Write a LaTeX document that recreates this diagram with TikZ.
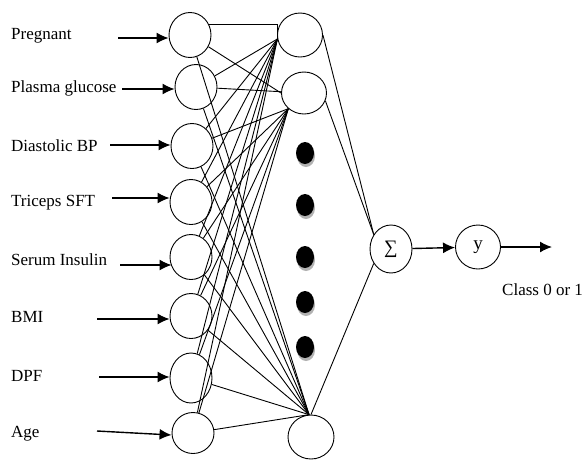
\documentclass[tikz,border=0pt]{standalone}
\usepackage{fontspec}
\setmainfont{Liberation Serif}
\usetikzlibrary{arrows.meta,shapes.geometric}
\begin{document}
\begin{tikzpicture}[x=1pt,y=-1pt,
  >={Latex[length=12pt,width=11pt]},
  neuron/.style={draw, ellipse, line width=0.9pt, minimum width=42pt, minimum height=45pt, inner sep=0pt},
  blob/.style={fill=black, ellipse, minimum width=18pt, minimum height=22pt, inner sep=0pt},
  shade/.style={fill=black!30, ellipse, minimum width=18pt, minimum height=22pt, inner sep=0pt},
  lab/.style={anchor=base west, font=\fontsize{17}{20}\selectfont, inner sep=0pt},
  wire/.style={line width=0.9pt},
  arr/.style={line width=1.4pt, ->}]
\useasboundingbox (0,0) rectangle (586,459);
\fill[white] (0,0) rectangle (586,459);
% input neurons
\node[neuron] (i1) at (190,35) {};
\node[neuron] (i2) at (196,87) {};
\node[neuron] (i3) at (192,146) {};
\node[neuron] (i4) at (191,202) {};
\node[neuron] (i5) at (191,257) {};
\node[neuron] (i6) at (191,316) {};
\node[neuron, minimum height=50pt] (i7) at (191,378) {};
\node[neuron, minimum height=41pt] (i8) at (193,433) {};
% hidden neurons
\node[neuron, minimum width=45pt, minimum height=44pt] (h1) at (300,35) {};
\node[neuron, minimum width=45pt, minimum height=42pt] (h2) at (304,93) {};
\node[neuron, minimum width=46pt, minimum height=44pt] (h3) at (311,437) {};
% dots (with soft shadow)
\foreach \yy [count=\n] in {153,205,257,302,347}{
  \node[shade] (s\n) at (306,\yy+3) {};
  \node[blob] (d\n) at (305,\yy) {};
}
% output
\node[neuron, minimum width=42pt, minimum height=48pt, font=\fontsize{19}{22}\selectfont] (sig) at (391,249) {∑};
\node[neuron, minimum width=45pt, minimum height=44pt, font=\fontsize{19}{22}\selectfont] (yy) at (478,247) {y};
% labels
\node[lab] (l1) at (11,39) {Pregnant};
\node[lab] (l2) at (11,92) {Plasma glucose};
\node[lab] (l3) at (11,151) {Diastolic BP};
\node[lab] (l4) at (11,206) {Triceps SFT};
\node[lab] (l5) at (11,265) {Serum Insulin};
\node[lab] (l6) at (11,322) {BMI};
\node[lab] (l7) at (11,381) {DPF};
\node[lab] (l8) at (11,437) {Age};
\node[lab] (lc) at (502,295) {Class 0 or 1};
% input arrows
\coordinate (a1) at (118,38);
\coordinate (a2) at (122,89);
\coordinate (a3) at (110,145);
\coordinate (a4) at (112,198);
\coordinate (a5) at (120,265);
\coordinate (a6) at (97,319);
\coordinate (a7) at (99,377);
\coordinate (a8) at (97,431);
\draw[arr] (a1) -- (a1 -| i1.west);
\draw[arr] (a2) -- (a2 -| i2.west);
\draw[arr] (a3) -- (a3 -| i3.west);
\draw[arr] (a4) -- (a4 -| i4.west);
\draw[arr] (a5) -- ([xshift=2pt]a5 -| i5.west);
\draw[arr] (a6) -- (a6 -| i6.west);
\draw[arr] (a7) -- (a7 -| i7.west);
\draw[arr] (a8) -- ([yshift=-4pt]a8 -| i8.west);
% input to hidden
\draw[wire] (i1.28) -- (i1.28 -| h1.190) -- (h1.190);
\draw[wire] (i1) -- (h2.west);
\draw[wire] (i1) -- (h3.95);
\draw[wire] (i2) -- (h2);
\draw[wire] (i2) -- (h1.190);
\draw[wire] (i2) -- (h3.95);
\foreach \k in {3,...,8}{
  \draw[wire] (i\k) -- (h1.190);
  \draw[wire] (i\k) -- (h2.225);
  \draw[wire] (i\k) -- (h3.95);
}
% hidden to sum
\draw[wire] (h1.east) -- (sig.140);
\draw[wire] (h2.-20) -- (sig.140);
\draw[wire] (h3.90) -- (sig.220);
% output arrows
\coordinate (o) at (552,247);
\draw[arr] (sig) -- (yy);
\draw[arr] (yy) -- (o);
\end{tikzpicture}
\end{document}
